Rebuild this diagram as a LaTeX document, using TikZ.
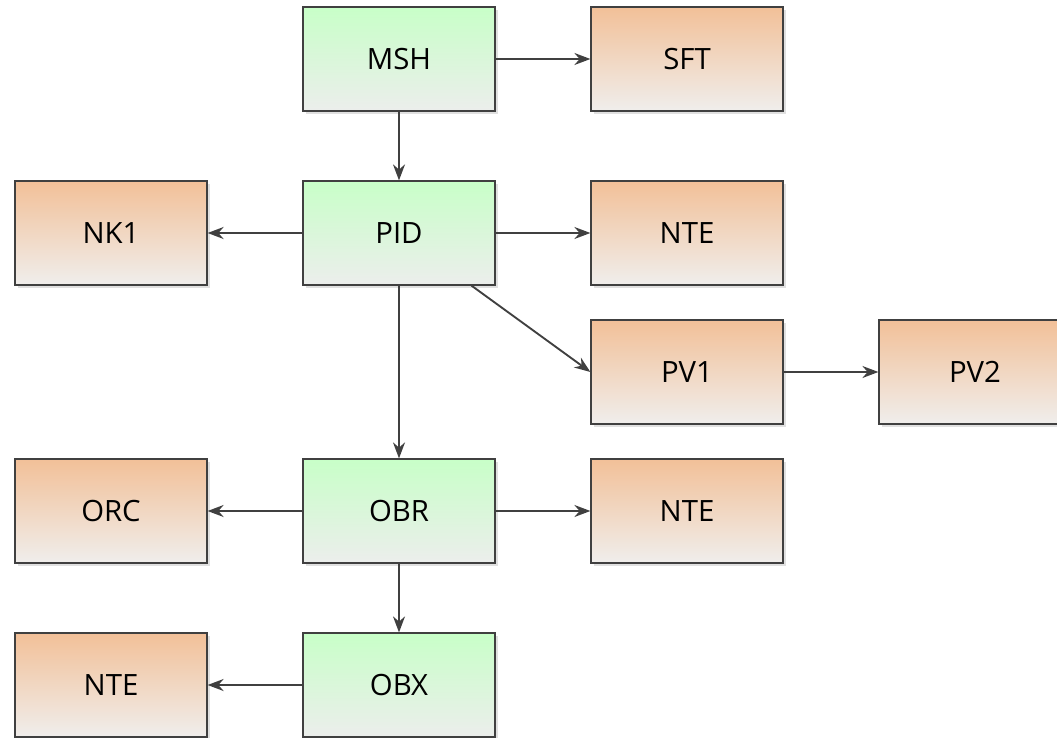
\documentclass[tikz,border=0pt]{standalone}
\usepackage{fontspec}
\setmainfont{Open Sans}
\usetikzlibrary{arrows.meta,shadows,calc}
\definecolor{orgtop}{RGB}{242,192,152}
\definecolor{orgbot}{RGB}{240,238,236}
\definecolor{grntop}{RGB}{200,255,200}
\definecolor{grnbot}{RGB}{236,238,236}
\definecolor{edge}{RGB}{64,64,64}
\tikzset{
  box/.style={draw=edge, line width=0.9pt, minimum width=144pt, minimum height=78pt, inner sep=0pt,
    font=\fontsize{22}{26}\selectfont,
    drop shadow={shadow xshift=2.5pt, shadow yshift=-2.5pt, fill=black!12, opacity=1}},
  seg/.style={box, top color=orgtop, bottom color=orgbot},
  msg/.style={box, top color=grntop, bottom color=grnbot},
  conn/.style={draw=edge, line width=1.4pt, -{Stealth[length=12pt,width=9pt]}}
}
\begin{document}
\begin{tikzpicture}[x=0.75pt,y=-0.75pt]
\useasboundingbox (0,0) rectangle (1057,738);
\clip (0,0) rectangle (1057,738);
\fill[white] (0,0) rectangle (1057,738);
\node[msg] (MSH) at (399,59) {MSH};
\node[seg] (SFT) at (687,59) {SFT};
\node[msg] (PID) at (399,233) {PID};
\node[seg] (NK1) at (111,233) {NK1};
\node[seg] (NTEa) at (687,233) {NTE};
\node[seg] (PV1) at (687,372) {PV1};
\node[seg] (PV2) at (975,372) {PV2};
\node[msg] (OBR) at (399,511) {OBR};
\node[seg] (ORC) at (111,511) {ORC};
\node[seg] (NTEb) at (687,511) {NTE};
\node[msg] (OBX) at (399,685) {OBX};
\node[seg] (NTEc) at (111,685) {NTE};
\coordinate (PIDd) at ($(PID.south)!0.75!(PID.south east)$);
\draw[conn] (MSH) -- (SFT);
\draw[conn] (MSH) -- (PID);
\draw[conn] (PID) -- (NK1);
\draw[conn] (PID) -- (NTEa);
\draw[conn] (PIDd) -- (PV1.west);
\draw[conn] (PV1) -- (PV2);
\draw[conn] (PID) -- (OBR);
\draw[conn] (OBR) -- (ORC);
\draw[conn] (OBR) -- (NTEb);
\draw[conn] (OBR) -- (OBX);
\draw[conn] (OBX) -- (NTEc);
\end{tikzpicture}
\end{document}
